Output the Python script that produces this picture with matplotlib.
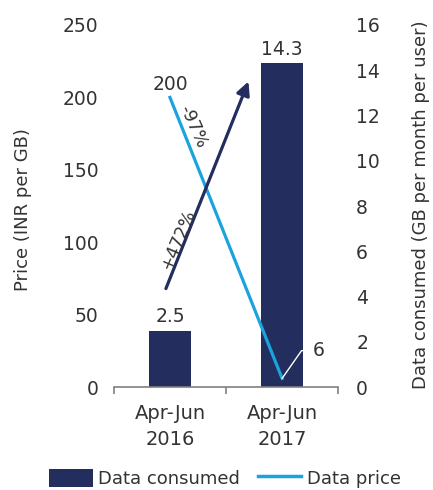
import matplotlib.pyplot as plt
from matplotlib.patches import Patch
from matplotlib.lines import Line2D

periods = ["Apr-Jun\n2016", "Apr-Jun\n2017"]
data_consumed = [2.5, 14.3]   # GB per month per user
data_price = [200, 6]         # INR per GB

NAVY = "#232e5e"
BLUE = "#1ba3dd"
TEXT = "#333333"

plt.rcParams['font.family'] = ['DejaVu Sans']

fig = plt.figure(figsize=(4.33, 4.9), dpi=100)
ax = fig.add_axes([0.263, 0.21, 0.518, 0.739])
ax2 = ax.twinx()
x = list(range(len(periods)))

# barras: consumo de datos, eje derecho
ax.bar(x, data_consumed, width=0.38, color=NAVY, zorder=2)
ax.set_ylim(0, 16)
ax.set_xlim(-0.5, 1.5)
ax.set_yticks(range(0, 17, 2))

for xi, v in zip(x, data_consumed):
    ax.annotate(f"{v}", (xi, v), xytext=(0, 10), textcoords='offset points',
                ha='center', va='center', fontsize=13.5, color=TEXT)

ax.set_xticks(x)
ax.set_xticklabels(periods, fontsize=14, color=TEXT, linespacing=1.5)
ax.set_xticks([-0.5, 0.5, 1.5], minor=True)
ax.tick_params(axis='x', which='major', length=0, pad=12)
ax.tick_params(axis='x', which='minor', length=5, color="#808080", width=1.2)
for s in ['top', 'left', 'right']:
    ax.spines[s].set_visible(False)
ax.spines['bottom'].set_color("#808080")
ax.spines['bottom'].set_linewidth(1.2)

# linea: precio, eje izquierdo
ax2.plot(x, data_price, color=BLUE, lw=2.3, zorder=3)
ax2.set_ylim(0, 250)
ax2.set_yticks(range(0, 251, 50))
for s in ax2.spines.values():
    s.set_visible(False)

# intercambiar lados de los ejes y despues de twinx
ax.yaxis.tick_right()
ax.yaxis.set_label_position('right')
ax.tick_params(axis='y', length=0, pad=13, labelsize=13.5, labelcolor=TEXT)
ax.set_ylabel("Data consumed (GB per month per user)", fontsize=13, color=TEXT)
ax.yaxis.set_label_coords(1.33, 0.503)

ax2.yaxis.tick_left()
ax2.yaxis.set_label_position('left')
ax2.tick_params(axis='y', length=0, pad=11, labelsize=13.5, labelcolor=TEXT)
ax2.set_ylabel("Price (INR per GB)", fontsize=13, color=TEXT)
ax2.yaxis.set_label_coords(-0.366, 0.489)

ax2.annotate(f"{data_price[0]}", (x[0], data_price[0]), xytext=(0, 9),
             textcoords='offset points', ha='center', va='center',
             fontsize=13.5, color=TEXT)
ax2.annotate(f"{data_price[1]}", (x[1], data_price[1]), xytext=(22, 20),
             textcoords='offset points', ha='left', va='center',
             fontsize=13.5, color=TEXT,
             arrowprops=dict(arrowstyle='-', color='white', lw=1,
                             shrinkA=1, shrinkB=0,
                             connectionstyle="angle,angleA=0,angleB=55,rad=0"))

# flecha de crecimiento y etiquetas de variacion
ax2.annotate("", xy=(0.70, 211), xytext=(-0.036, 68),
             arrowprops=dict(arrowstyle='-|>', color=NAVY, lw=2.3,
                             mutation_scale=20, shrinkA=0, shrinkB=0))
ax2.text(0.07, 102, "+472%", rotation=67, ha='center', va='center',
         fontsize=12.5, color=TEXT, rotation_mode='anchor')
ax2.text(0.20, 180, "-97%", rotation=-66, ha='center', va='center',
         fontsize=12.5, color=TEXT, rotation_mode='anchor')

handles = [Patch(facecolor=NAVY, edgecolor='none'),
           Line2D([0], [0], color=BLUE, lw=2.5)]
fig.legend(handles, ["Data consumed", "Data price"], loc='center',
           bbox_to_anchor=(0.52, 0.024), ncol=2, frameon=False,
           fontsize=13, handlelength=2.4, handleheight=1.2,
           handletextpad=0.3, columnspacing=1.0, labelcolor=TEXT)

fig.savefig("out.png", dpi=100)
